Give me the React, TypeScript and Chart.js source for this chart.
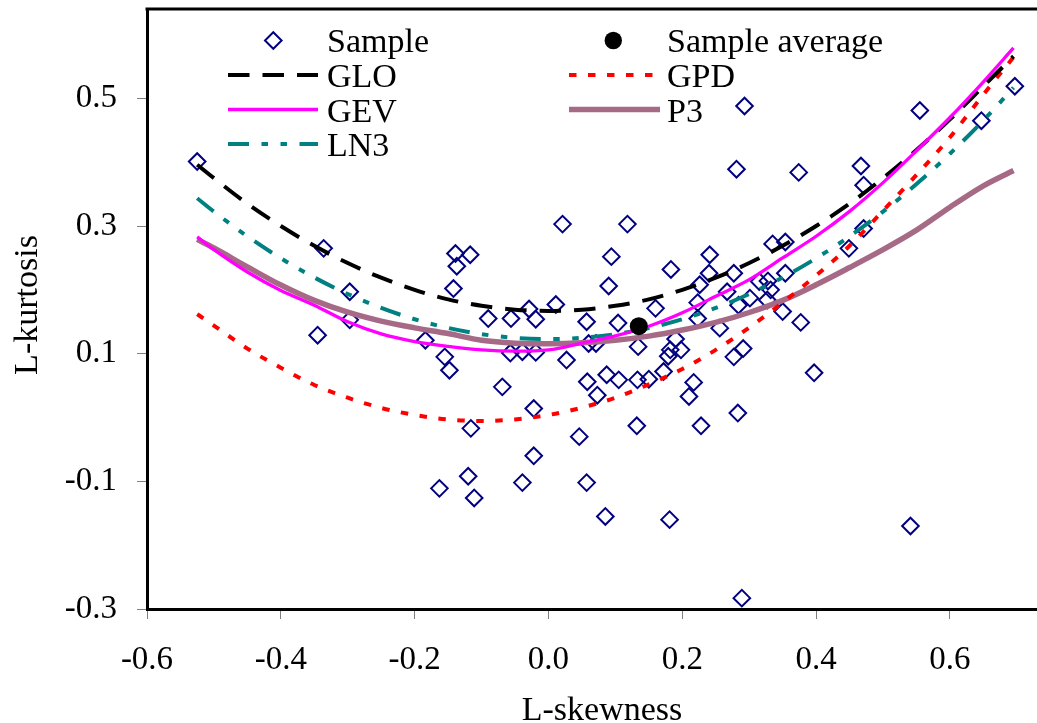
import React, { useEffect, useRef } from "react";
import { Chart, registerables } from "chart.js";

Chart.register(...registerables);

// ---------- data ----------
const curveX = [-0.525, -0.5, -0.45, -0.4, -0.35, -0.3, -0.25, -0.2, -0.15, -0.1, -0.05, 0, 0.05, 0.1, 0.15, 0.2, 0.25, 0.3, 0.35, 0.4, 0.45, 0.5, 0.55, 0.6, 0.65, 0.695];
const gloY = [0.396, 0.375, 0.335, 0.3, 0.269, 0.242, 0.219, 0.2, 0.185, 0.175, 0.169, 0.167, 0.169, 0.175, 0.185, 0.2, 0.219, 0.242, 0.269, 0.3, 0.335, 0.375, 0.419, 0.467, 0.519, 0.566];
const gpdY = [0.162, 0.144, 0.108, 0.078, 0.051, 0.031, 0.015, 0.004, -0.003, -0.0055, -0.003, 0.004, 0.0155, 0.031, 0.052, 0.076, 0.106, 0.141, 0.18, 0.2225, 0.269, 0.324, 0.38, 0.439, 0.506, 0.5645];
const gevY = [0.283, 0.263, 0.228, 0.199, 0.176, 0.15, 0.131, 0.119, 0.1115, 0.106, 0.104, 0.106, 0.1165, 0.128, 0.143, 0.164, 0.19, 0.216, 0.25, 0.284, 0.323, 0.368, 0.418, 0.47, 0.526, 0.579];
const p3Y = [0.279, 0.2655, 0.236, 0.2075, 0.1835, 0.165, 0.151, 0.1405, 0.1315, 0.121, 0.1165, 0.1155, 0.117, 0.121, 0.1275, 0.137, 0.149, 0.1645, 0.1835, 0.208, 0.235, 0.263, 0.2935, 0.3295, 0.363, 0.387];
const ln3Y = [0.3436, 0.3226, 0.2839, 0.2495, 0.2194, 0.1935, 0.1717, 0.154, 0.1403, 0.1306, 0.1248, 0.1228, 0.1248, 0.1306, 0.1403, 0.154, 0.1717, 0.1935, 0.2194, 0.2495, 0.2839, 0.3226, 0.3657, 0.4133, 0.4656, 0.5167];

const sampleX = [
  -0.525, -0.336, -0.297, -0.297, -0.345, -0.184, -0.155, -0.148, -0.139, -0.117,
  -0.137, -0.142, -0.09, -0.056, -0.029, -0.019, 0.011, 0.021, 0.118, 0.094,
  0.09, 0.057, 0.104, 0.16, 0.183, 0.241, 0.24, 0.226, 0.281, 0.277,
  0.267, 0.223, 0.223, 0.256, 0.284, 0.134, 0.19, 0.182, 0.198, 0.179,
  0.027, 0.06, 0.071, -0.057, -0.039, -0.019, 0.277, -0.069, 0.058, 0.087,
  0.105, 0.133, 0.15, 0.172, 0.217, 0.21, 0.073, -0.022, -0.116, 0.132,
  0.228, 0.046, 0.283, -0.022, -0.12, -0.163, -0.111, -0.039, 0.057, 0.085,
  0.181, 0.289, 0.541, 0.293, 0.555, 0.697, 0.647, 0.374, 0.467, 0.471,
  0.471, 0.449, 0.335, 0.354, 0.315, 0.354, 0.328, 0.332, 0.301, 0.327,
  0.35, 0.377, 0.291, 0.397,
];
const sampleY = [
  0.401, 0.265, 0.197, 0.153, 0.129, 0.121, 0.095, 0.074, 0.257, 0.255,
  0.237, 0.202, 0.155, 0.155, 0.17, 0.154, 0.177, 0.303, 0.303, 0.252,
  0.206, 0.15, 0.148, 0.171, 0.232, 0.255, 0.226, 0.208, 0.389, 0.226,
  0.197, 0.18, 0.155, 0.14, 0.176, 0.111, 0.123, 0.106, 0.106, 0.096,
  0.09, 0.116, 0.116, 0.101, 0.103, 0.102, 0.095, 0.048, 0.056, 0.067,
  0.059, 0.059, 0.06, 0.072, 0.055, 0.033, 0.035, 0.014, -0.017, -0.013,
  -0.013, -0.03, 0.007, -0.06, -0.092, -0.111, -0.126, -0.102, -0.102, -0.155,
  -0.16, -0.283, -0.17, 0.488, 0.481, 0.519, 0.465, 0.384, 0.394, 0.364,
  0.296, 0.265, 0.272, 0.275, 0.213, 0.226, 0.214, 0.2, 0.187, 0.184,
  0.166, 0.149, 0.108, 0.07,
];
const avgX = [0.135];
const avgY = [0.143];

const xTicks = [-0.6, -0.4, -0.2, 0.0, 0.2, 0.4, 0.6];
const yTicks = [-0.3, -0.1, 0.1, 0.3, 0.5];
const X_MIN = -0.6;
const X_MAX = 0.76;
const Y_MIN = -0.3;
const Y_MAX = 0.64;

const seriesNames = ["Sample", "Sample average", "GLO", "GPD", "GEV", "P3", "LN3"];

// ---------- styles ----------
const FONT = "'Liberation Serif', 'Times New Roman', serif";
const C_SAMPLE = "#000080";
const C_GLO = "#000000";
const C_GPD = "#FF0000";
const C_GEV = "#FF00FF";
const C_P3 = "#A66A86";
const C_LN3 = "#008080";
const DASH_GLO = [21.5, 13];
const DASH_GPD = [7.5, 11.5];
const DASH_LN3 = [21, 12.5, 6.5, 12.5, 6.5, 12.5];

const toPts = (xs: number[], ys: number[]) => xs.map((x, i) => ({ x, y: ys[i] }));

const W = 1057;
const H = 723;

const decorPlugin = {
  id: "decor",
  afterDraw(chart: any) {
    const { ctx, chartArea } = chart;
    ctx.save();
    // top border
    ctx.strokeStyle = "#000";
    ctx.lineWidth = 3;
    ctx.setLineDash([]);
    ctx.beginPath();
    ctx.moveTo(chartArea.left - 1.5, chartArea.top);
    ctx.lineTo(chartArea.right, chartArea.top);
    ctx.stroke();

    // axis titles
    ctx.fillStyle = "#000";
    ctx.font = `34px ${FONT}`;
    ctx.textAlign = "center";
    ctx.textBaseline = "alphabetic";
    ctx.fillText("L-skewness", (chartArea.left + chartArea.right) / 2, 720);
    ctx.save();
    ctx.translate(37, 305);
    ctx.rotate(-Math.PI / 2);
    ctx.fillText("L-kurtosis", 0, 0);
    ctx.restore();

    // legend
    const rowsY = [40.5, 75, 109.5, 144];
    const baseY = [52, 87, 121.5, 156];
    const c1 = { x0: 228, x1: 318, mx: 273.3, tx: 327 };
    const c2 = { x0: 569, x1: 660, mx: 613.3, tx: 667 };
    ctx.textAlign = "left";
    ctx.font = `34px ${FONT}`;

    const line = (c: any, y: number, color: string, w: number, dash: number[]) => {
      ctx.save();
      ctx.strokeStyle = color;
      ctx.lineWidth = w;
      ctx.setLineDash(dash);
      ctx.lineCap = "butt";
      ctx.beginPath();
      ctx.moveTo(c.x0, y);
      ctx.lineTo(c.x1, y);
      ctx.stroke();
      ctx.restore();
    };
    // Sample
    ctx.save();
    ctx.strokeStyle = C_SAMPLE;
    ctx.lineWidth = 2;
    const r = 8.3;
    ctx.beginPath();
    ctx.moveTo(c1.mx, rowsY[0] - r);
    ctx.lineTo(c1.mx + r, rowsY[0]);
    ctx.lineTo(c1.mx, rowsY[0] + r);
    ctx.lineTo(c1.mx - r, rowsY[0]);
    ctx.closePath();
    ctx.stroke();
    ctx.restore();
    ctx.fillText(seriesNames[0], c1.tx, baseY[0]);
    // Sample average
    ctx.save();
    ctx.fillStyle = "#000";
    ctx.beginPath();
    ctx.arc(c2.mx, rowsY[0], 8.7, 0, Math.PI * 2);
    ctx.fill();
    ctx.restore();
    ctx.fillText(seriesNames[1], c2.tx, baseY[0]);
    // GLO / GPD
    line(c1, rowsY[1], C_GLO, 4, DASH_GLO);
    ctx.fillText(seriesNames[2], c1.tx, baseY[1]);
    line(c2, rowsY[1], C_GPD, 4, DASH_GPD);
    ctx.fillText(seriesNames[3], c2.tx, baseY[1]);
    // GEV / P3
    line(c1, rowsY[2], C_GEV, 3.3, []);
    ctx.fillText(seriesNames[4], c1.tx, baseY[2]);
    line(c2, rowsY[2], C_P3, 5.5, []);
    ctx.fillText(seriesNames[5], c2.tx, baseY[2]);
    // LN3
    line(c1, rowsY[3], C_LN3, 4, DASH_LN3);
    ctx.fillText(seriesNames[6], c1.tx, baseY[3]);
    ctx.restore();
  },
};

export default function App() {
  const ref = useRef<HTMLCanvasElement | null>(null);

  useEffect(() => {
    if (!ref.current) return;
    const curve = (label: string, ys: number[], color: string, width: number, dash: number[], order: number) => ({
      label,
      data: toPts(curveX, ys),
      showLine: true,
      borderColor: color,
      backgroundColor: color,
      borderWidth: width,
      borderDash: dash,
      pointRadius: 0,
      pointHoverRadius: 0,
      cubicInterpolationMode: "monotone" as const,
      fill: false,
      order,
    });

    const chart = new Chart(ref.current, {
      type: "scatter",
      data: {
        datasets: [
          {
            label: seriesNames[0],
            data: toPts(sampleX, sampleY),
            pointStyle: "rectRot",
            pointRadius: 8.3,
            pointBorderWidth: 2,
            borderColor: C_SAMPLE,
            backgroundColor: "rgba(0,0,0,0)",
            showLine: false,
            order: 10,
          },
          {
            label: seriesNames[1],
            data: toPts(avgX, avgY),
            pointStyle: "circle",
            pointRadius: 9,
            pointBorderWidth: 0,
            borderColor: "#000",
            backgroundColor: "#000",
            showLine: false,
            order: 0,
          },
          curve(seriesNames[2], gloY, C_GLO, 4, DASH_GLO, 2),
          curve(seriesNames[3], gpdY, C_GPD, 4, DASH_GPD, 3),
          curve(seriesNames[4], gevY, C_GEV, 3.3, [], 1),
          curve(seriesNames[5], p3Y, C_P3, 5.5, [], 5),
          curve(seriesNames[6], ln3Y, C_LN3, 4, DASH_LN3, 4),
        ],
      },
      options: {
        animation: false,
        responsive: false,
        maintainAspectRatio: false,
        devicePixelRatio: 1,
        events: [],
        layout: { autoPadding: false, padding: { top: 9, left: 0, right: 0, bottom: 0 } },
        plugins: {
          legend: { display: false },
          tooltip: { enabled: false },
          title: { display: false },
        },
        scales: {
          x: {
            type: "linear",
            position: "bottom",
            min: X_MIN,
            max: X_MAX,
            grid: {
              display: true,
              drawOnChartArea: false,
              drawTicks: true,
              tickLength: 10,
              tickColor: "#808080",
              color: "#808080",
              lineWidth: 1,
            },
            border: { display: true, color: "#000", width: 3 },
            ticks: {
              color: "#000",
              font: { family: FONT, size: 33 },
              padding: 22,
              autoSkip: false,
              maxRotation: 0,
              callback: (v: any) => Number(v).toFixed(1),
            },
            afterBuildTicks: (s: any) => {
              s.ticks = xTicks.map((v) => ({ value: v }));
            },
            afterFit: (s: any) => {
              s.height = 114;
              s.paddingLeft = 0;
              s.paddingRight = 0;
              s.paddingTop = 0;
              s.paddingBottom = 0;
            },
          },
          y: {
            type: "linear",
            position: "left",
            min: Y_MIN,
            max: Y_MAX,
            grid: {
              display: true,
              drawOnChartArea: false,
              drawTicks: true,
              tickLength: 10,
              tickColor: "#808080",
              color: "#808080",
              lineWidth: 1,
            },
            border: { display: true, color: "#000", width: 3 },
            ticks: {
              color: "#000",
              font: { family: FONT, size: 33 },
              padding: 20,
              autoSkip: false,
              callback: (v: any) => Number(v).toFixed(1),
            },
            afterBuildTicks: (s: any) => {
              s.ticks = yTicks.map((v) => ({ value: v }));
            },
            afterFit: (s: any) => {
              s.width = 147;
              s.paddingLeft = 0;
              s.paddingRight = 0;
              s.paddingTop = 0;
              s.paddingBottom = 0;
            },
          },
        },
      },
      plugins: [decorPlugin],
    });
    return () => chart.destroy();
  }, []);

  return (
    <div
      style={{
        position: "fixed",
        left: 0,
        top: 0,
        width: 1037,
        height: 723,
        overflow: "hidden",
        background: "#fff",
      }}
    >
      <canvas ref={ref} width={W} height={H} style={{ width: W, height: H, display: "block" }} />
    </div>
  );
}
